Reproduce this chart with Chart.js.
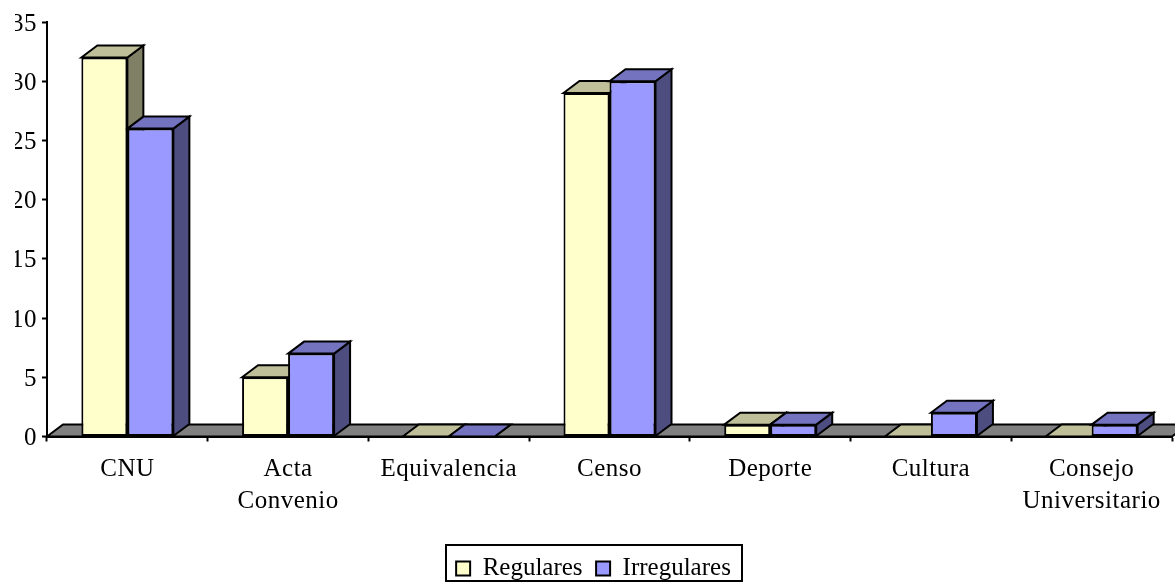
<!DOCTYPE html>
<html><head><meta charset="utf-8">
<style>html,body{margin:0;padding:0;background:#fff}canvas{display:block}</style>
<script src="https://cdn.jsdelivr.net/npm/chart.js@4"></script>
</head><body><canvas id="c" width="1175" height="586"></canvas>
<script>
const categories=["CNU",["Acta","Convenio"],"Equivalencia","Censo","Deporte","Cultura",["Consejo","Universitario"]];
const regulares=[32,5,0,29,1,0,0];
const irregulares=[26,7,0,30,1,2,1];
const yTicks=[0,5,10,15,20,25,30,35];
const FONT='"Liberation Serif","Times New Roman",serif';
const DX=16,DY=12;
const LEGEND_SHIFT=13;
function poly(ctx,pts,fill){ctx.beginPath();pts.forEach((p,i)=>i?ctx.lineTo(p[0],p[1]):ctx.moveTo(p[0],p[1]));ctx.closePath();ctx.fillStyle=fill;ctx.fill();ctx.stroke();}
const box3d={id:'box3d',
 afterLayout(chart){
  const lg=chart.legend;
  lg.top+=LEGEND_SHIFT;lg.bottom+=LEGEND_SHIFT;
  if(!lg._wrapped){const o=lg.draw;lg.draw=function(a){const c=chart.ctx;c.save();c.letterSpacing='0px';o.call(this,a);c.restore();};lg._wrapped=true;}
 },
 beforeDraw(chart){chart.ctx.letterSpacing='0.5px';},
 beforeDatasetsDraw(chart){
  const ctx=chart.ctx,a=chart.chartArea;
  ctx.save();ctx.lineWidth=2;ctx.strokeStyle='#000';ctx.lineJoin='miter';
  poly(ctx,[[a.left,a.bottom],[a.left+DX,a.bottom-DY],[a.right+DX,a.bottom-DY],[a.right,a.bottom]],'#808080');
  const sh=[['#BFBF99','#808066'],['#7373BF','#4D4D80']];
  const n=chart.data.labels.length;
  for(let i=0;i<n;i++){
   chart.data.datasets.forEach((d,s)=>{
    const b=chart.getDatasetMeta(s).data[i];
    const l=b.x-b.width/2,r=b.x+b.width/2,t=b.y,bo=b.base;
    poly(ctx,[[r,bo],[r+DX,bo-DY],[r+DX,t-DY],[r,t]],sh[s][1]);
    poly(ctx,[[l,t],[l+DX,t-DY],[r+DX,t-DY],[r,t]],sh[s][0]);
   });
  }
  ctx.restore();
 },
 afterDraw(chart){
  const ctx=chart.ctx;
  ctx.save();ctx.lineWidth=2;ctx.strokeStyle='#000';
  ctx.strokeRect(446,545,296,36);
  ctx.restore();
 }};
new Chart(document.getElementById('c'),{
 type:'bar',
 data:{labels:categories,datasets:[
  {label:'Regulares',data:regulares,backgroundColor:'#FFFFCC',borderColor:'#000',borderWidth:2,borderSkipped:false},
  {label:'Irregulares',data:irregulares,backgroundColor:'#9999FF',borderColor:'#000',borderWidth:2,borderSkipped:false}]},
 options:{responsive:false,animation:false,devicePixelRatio:1,
  layout:{padding:{left:15,right:3,top:22,bottom:8}},
  datasets:{bar:{categoryPercentage:0.5725,barPercentage:1}},
  plugins:{title:{display:false},tooltip:{enabled:false},
   legend:{position:'bottom',labels:{font:{family:FONT,size:25},color:'#000',boxWidth:14,boxHeight:14,padding:13.5}}},
  scales:{
   x:{afterFit(s){s.height=586-436.5-8-s.chart.legend.height},
      grid:{drawOnChartArea:false,tickLength:5,tickColor:'#000',tickWidth:2,offset:true},
      border:{color:'#000',width:2},
      ticks:{autoSkip:false,maxRotation:0,minRotation:0,color:'#000',font:{family:FONT,size:25,lineHeight:1.28},padding:12}},
   y:{min:0,max:35,afterFit(s){s.width=32},afterBuildTicks(s){s.ticks=yTicks.map(v=>({value:v}))},
      grid:{drawOnChartArea:false,tickLength:5,tickColor:'#000',tickWidth:2},
      border:{color:'#000',width:2},
      ticks:{color:'#000',font:{family:FONT,size:25},padding:5,labelOffset:2}}
  }},
 plugins:[box3d]});
</script></body></html>
